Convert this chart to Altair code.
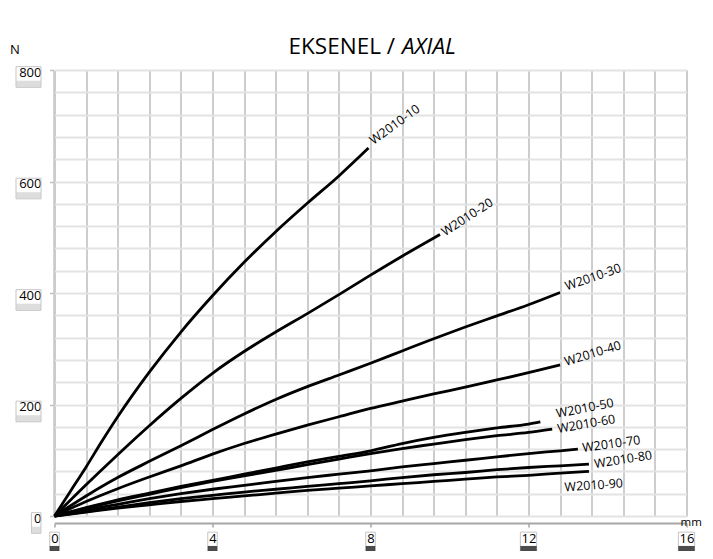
import altair as alt
import pandas as pd

# ---------------- data ----------------
series_names = ["W2010-10", "W2010-20", "W2010-30", "W2010-40", "W2010-50",
                "W2010-60", "W2010-70", "W2010-80", "W2010-90"]

mm_w10 = [0, 0.4, 0.8, 1.2, 1.6, 2.4, 3.2, 4.0, 4.8, 5.6, 6.4, 7.2, 7.95]
n_w10 = [0, 44, 88, 134, 178, 258, 330, 395, 455, 510, 561, 610, 660]

mm_w20 = [0, 0.8, 1.6, 2.4, 3.2, 4.0, 4.8, 5.6, 6.4, 7.2, 8.0, 8.8, 9.76]
n_w20 = [0, 56, 110, 162, 211, 256, 295, 330, 363, 397, 432, 466, 505]

mm_w30 = [0, 0.8, 1.6, 2.4, 3.2, 4.0, 4.8, 5.6, 6.4, 7.2, 8.0, 8.8, 9.6, 10.4, 11.2, 12.0, 12.8]
n_w30 = [0, 36, 69, 98, 126, 155, 183, 209, 232, 253, 274, 296, 318, 339, 359, 379, 401]

mm_w40 = [0, 0.8, 1.6, 2.4, 3.2, 4.0, 4.8, 5.6, 6.4, 7.2, 8.0, 8.8, 9.6, 10.4, 11.2, 12.0, 12.8]
n_w40 = [0, 26, 49, 70, 90, 111, 130, 147, 163, 178, 193, 206, 219, 231, 244, 257, 271]

mm_w50 = [0, 0.8, 1.6, 2.4, 3.2, 4.0, 4.8, 5.6, 6.4, 7.2, 8.0, 8.8, 9.6, 10.4, 11.2, 12.0, 12.3]
n_w50 = [0, 15, 29, 41, 53, 64, 75, 86, 97, 107, 117, 130, 141, 150, 158, 165, 169]

mm_w60 = [0, 0.8, 1.6, 2.4, 3.2, 4.0, 4.8, 5.6, 6.4, 7.2, 8.0, 8.8, 9.6, 10.4, 11.2, 12.0, 12.6]
n_w60 = [0, 14, 27, 39, 51, 62, 72, 82, 92, 102, 112, 121, 129, 137, 144, 150, 156]

mm_w70 = [0, 0.8, 1.6, 2.4, 3.2, 4.0, 4.8, 5.6, 6.4, 7.2, 8.0, 8.8, 9.6, 10.4, 11.2, 12.0, 12.8, 13.25]
n_w70 = [0, 11, 21, 31, 40, 48, 55, 62, 69, 75, 81, 88, 94, 100, 106, 112, 117, 120]

mm_w80 = [0, 0.8, 1.6, 2.4, 3.2, 4.0, 4.8, 5.6, 6.4, 7.2, 8.0, 8.8, 9.6, 10.4, 11.2, 12.0, 12.8, 13.53]
n_w80 = [0, 8, 16, 24, 31, 37, 43, 48, 53, 58, 63, 69, 74, 78, 83, 87, 90, 93]

mm_w90 = [0, 0.8, 1.6, 2.4, 3.2, 4.0, 4.8, 5.6, 6.4, 7.2, 8.0, 8.8, 9.6, 10.4, 11.2, 12.0, 12.8, 13.53]
n_w90 = [0, 7, 14, 20, 26, 31, 36, 41, 46, 50, 54, 58, 62, 66, 70, 73, 77, 80]

x_label_values = [0, 4, 8, 12, 16]
y_label_values = [0, 200, 400, 600, 800]
title_main = "EKSENEL /"
title_italic = "AXIAL"
y_unit = "N"
x_unit = "mm"

# ---------------- tables ----------------
curves = list(zip(series_names,
                  [mm_w10, mm_w20, mm_w30, mm_w40, mm_w50, mm_w60, mm_w70, mm_w80, mm_w90],
                  [n_w10, n_w20, n_w30, n_w40, n_w50, n_w60, n_w70, n_w80, n_w90]))
rows = []
for name, xs, ys in curves:
    for i, (a, b) in enumerate(zip(xs, ys)):
        rows.append({"series": name, "mm": a, "N": b, "order": i})
df = pd.DataFrame(rows)
end_df = df.groupby("series").tail(1).reset_index(drop=True)

x_grid = [round(i * 0.8, 1) for i in range(21)]
y_grid = list(range(0, 801, 40))

FONT = "Open Sans"

xscale = alt.Scale(domain=[0, 16], nice=False)
yscale = alt.Scale(domain=[0, 800], nice=False)

x_axis = alt.Axis(
    values=x_grid, title=None, grid=True, gridColor="#c8c8c8", gridWidth=1.8,
    labelExpr="datum.value % 4 == 0 ? format(datum.value, 'd') : ''",
    labelFont=FONT, labelFontSize=13, labelColor="black", labelPadding=5,
    labelOverlap=False, labelFlush=False, labelBound=False,
    tickSize=4, tickColor="#a6a6a6", tickWidth=1.5,
    tickOpacity={"condition": {"test": "datum.value % 4 == 0", "value": 1}, "value": 0},
    domainColor="#a6a6a6", domainWidth=2.2, offset=7,
)
y_axis = alt.Axis(
    values=y_grid, title=None, grid=True, gridColor="#e3e3e3", gridWidth=1.8,
    labelExpr="datum.value % 200 == 0 ? format(datum.value, 'd') : ''",
    labelFont=FONT, labelFontSize=13, labelColor="black", labelPadding=8.5,
    labelOverlap=False, labelFlush=False, labelBound=False, labelOffset=2,
    tickSize=4, tickColor="#bfbfbf", tickWidth=1.5,
    tickOpacity={"condition": {"test": "datum.value % 200 == 0", "value": 1}, "value": 0},
    domainColor="#c8c8c8", domainWidth=1.5, offset=1,
)

X = lambda f: alt.X(f, scale=xscale, axis=x_axis)
Y = lambda f: alt.Y(f, scale=yscale, axis=y_axis)

lines = alt.Chart(df).mark_line(
    color="black", strokeWidth=2.8, interpolate="monotone"
).encode(x=X("mm:Q"), y=Y("N:Q"), detail="series:N", order="order:Q")

# label styles: angle, dx, dy
label_style = {
    "W2010-10": (324, 5.8, 0.5),
    "W2010-20": (327, 3.0, 4.4),
    "W2010-30": (341, 7.0, 0.4),
    "W2010-40": (343, 5.4, 2.7),
    "W2010-50": (349, 17.0, -0.7),
    "W2010-60": (350, 5.2, 5.0),
    "W2010-70": (352, 4.6, 3.7),
    "W2010-80": (351, 5.3, 4.9),
    "W2010-90": (356, -25.4, 18.3),
}
label_layers = []
for name in series_names:
    ang, dx, dy = label_style[name]
    label_layers.append(
        alt.Chart(end_df).transform_filter(alt.datum.series == name).mark_text(
            align="left", baseline="alphabetic", angle=ang, dx=dx, dy=dy,
            font=FONT, fontSize=12.5, color="black"
        ).encode(x=X("mm:Q"), y=Y("N:Q"), text="series:N")
    )

# tick label boxes (decoration)
ybox_df = pd.DataFrame({"N": y_label_values})
xbox_df = pd.DataFrame({"mm": x_label_values})

ybox_border3 = alt.Chart(ybox_df).transform_filter("datum.N > 0").mark_tick(
    orient="horizontal", thickness=20.6, size=25, fillOpacity=0,
    stroke="#c4c4c4", strokeWidth=1, yOffset=7
).encode(y=Y("N:Q"), x=alt.value(-26))
ybox_grey3 = alt.Chart(ybox_df).transform_filter("datum.N > 0").mark_tick(
    orient="horizontal", thickness=6.6, size=25, color="#cfcfcf", yOffset=14
).encode(y=Y("N:Q"), x=alt.value(-26))
ybox_border1 = alt.Chart(ybox_df).transform_filter("datum.N == 0").mark_tick(
    orient="horizontal", thickness=20.6, size=9.5, fillOpacity=0,
    stroke="#c4c4c4", strokeWidth=1, yOffset=7
).encode(y=Y("N:Q"), x=alt.value(-18.3))
ybox_grey1 = alt.Chart(ybox_df).transform_filter("datum.N == 0").mark_tick(
    orient="horizontal", thickness=6.6, size=9.5, color="#cfcfcf", yOffset=14
).encode(y=Y("N:Q"), x=alt.value(-18.3))

xbox_border = alt.Chart(xbox_df).mark_tick(
    orient="horizontal", thickness=20.3, fillOpacity=0, stroke="#c4c4c4", strokeWidth=1
).encode(
    x=X("mm:Q"), y=alt.value(472.3),
    size=alt.condition("datum.mm >= 10", alt.value(16.3), alt.value(9.5)),
)
xbox_black = alt.Chart(xbox_df).mark_tick(
    orient="horizontal", thickness=6.5, color="black"
).encode(
    x=X("mm:Q"), y=alt.value(479.2),
    size=alt.condition("datum.mm >= 10", alt.value(16.3), alt.value(9.5)),
)

# titles / units
title1 = alt.Chart(pd.DataFrame({"t": [title_main]})).mark_text(
    align="right", baseline="alphabetic", font=FONT, fontSize=22.5, color="black"
).encode(x=alt.value(340.5), y=alt.value(-16), text="t:N")
title2 = alt.Chart(pd.DataFrame({"t": [title_italic]})).mark_text(
    align="left", baseline="alphabetic", font=FONT, fontSize=22.5, fontStyle="italic",
    color="black"
).encode(x=alt.value(347.5), y=alt.value(-16), text="t:N")
n_lab = alt.Chart(pd.DataFrame({"t": [y_unit]})).mark_text(
    align="left", baseline="alphabetic", font=FONT, fontSize=13, color="black"
).encode(x=alt.value(-44.5), y=alt.value(-16), text="t:N")
mm_lab = alt.Chart(pd.DataFrame({"t": [x_unit]})).mark_text(
    align="left", baseline="alphabetic", font=FONT, fontSize=11.5, color="black"
).encode(x=alt.value(626), y=alt.value(456), text="t:N")

chart = alt.layer(
    lines, *label_layers,
    ybox_border3, ybox_grey3, ybox_border1, ybox_grey1,
    xbox_border, xbox_black,
    title1, title2, n_lab, mm_lab,
).properties(
    width=632, height=446,
    autosize=alt.AutoSizeParams(type="none"),
    padding={"left": 46.5, "top": 62, "right": 18.5, "bottom": 35},
).configure_view(strokeWidth=0).configure(background="white")

chart.save("out.html", embed_options={"renderer": "svg", "actions": False})
